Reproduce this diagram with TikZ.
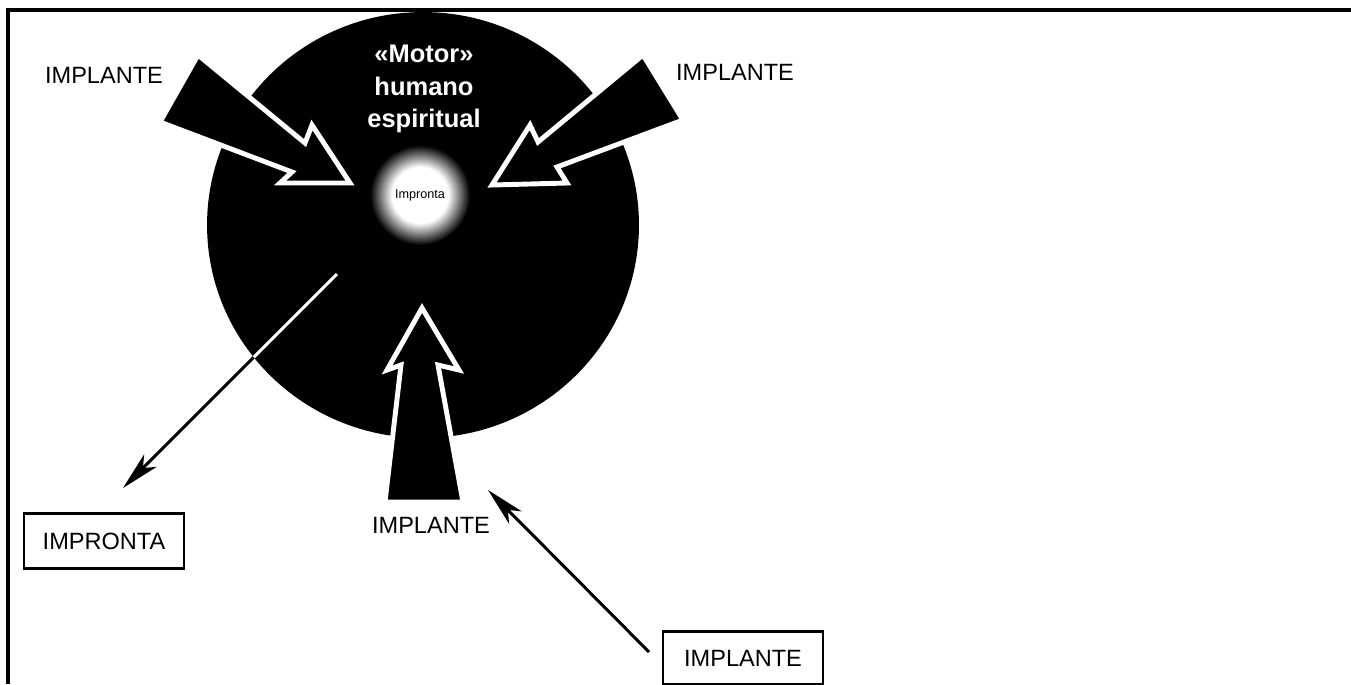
\documentclass[tikz,border=0pt]{standalone}
\usepackage{fontspec}
\setmainfont{Liberation Sans}
\usetikzlibrary{shapes,backgrounds}
\usetikzlibrary{arrows.meta}

\pgfdeclareradialshading{glow}{\pgfpoint{0bp}{0bp}}{color(0bp)=(white); color(14bp)=(white); color(25bp)=(black); color(50bp)=(black)}

\tikzset{
  bigarrow/.style={fill=black, draw=white, line width=2.8pt, line join=miter},
  thinarrow/.style={line width=1.7pt, -{Stealth[length=22pt, width=10pt, inset=6pt]}},
  lbl/.style={font=\fontsize{13.4}{16}\selectfont},
  boxed/.style={lbl, draw, line width=1.2pt, minimum width=3.2cm, minimum height=1.1cm},
  title/.style={white, align=center, font=\bfseries\fontsize{14.5}{18.7}\selectfont}
}

\begin{document}
\begin{tikzpicture}[x=0.02cm, y=-0.02cm]
\useasboundingbox (0,0) rectangle (1351,684);
% frame
\draw [line width=2pt] (8,684) -- (8,10) -- (1351,10);
% the motor
\coordinate (motor) at (423,225);
\fill (motor) ellipse [x radius=4.32cm, y radius=4.26cm];
\shade [shading=glow] (420,195) circle [radius=1cm];
% the three implants
\filldraw [bigarrow] (198,55) -- (305,143) -- (312,125) -- (350,183) -- (280,183) -- (292,172) -- (160,122) -- cycle;
\filldraw [bigarrow] (643,55) -- (538,142) -- (530,125) -- (492,185) -- (567,183) -- (557,167) -- (683,120) -- cycle;
\filldraw [bigarrow] (422,308) -- (459,370) -- (438,365) -- (463,502) -- (385,502) -- (401,365) -- (387,370) -- cycle;
% texts
\node [title] (motortxt) at (424,89) {«Motor»\\humano\\espiritual};
\node [font=\fontsize{7.2}{8}\selectfont] (impr) at (420,195) {Impronta};
\node [lbl] (impl-ul) at (104,75) {IMPLANTE};
\node [lbl] (impl-ur) at (735,72) {IMPLANTE};
\node [lbl] (impl-b) at (431,525) {IMPLANTE};
\node [boxed] (imprbox) at (104,541) {IMPRONTA};
\node [boxed, minimum height=1.06cm] (implbox) at (743,658) {IMPLANTE};
% thin arrows
\coordinate (impr-out) at (337,274);
\coordinate (impr-tip) at (123,488);
\coordinate (impl-out) at (649,652);
\coordinate (impl-tip) at (488,490);
\draw [thinarrow] (impr-out) -- (impr-tip);
\begin{scope}
  \clip (motor) ellipse [x radius=4.32cm, y radius=4.26cm];
  \draw [white, line width=1.7pt] (impr-out) -- (impr-tip);
\end{scope}
\draw [thinarrow] (impl-out) -- (impl-tip);
\end{tikzpicture}
\end{document}
